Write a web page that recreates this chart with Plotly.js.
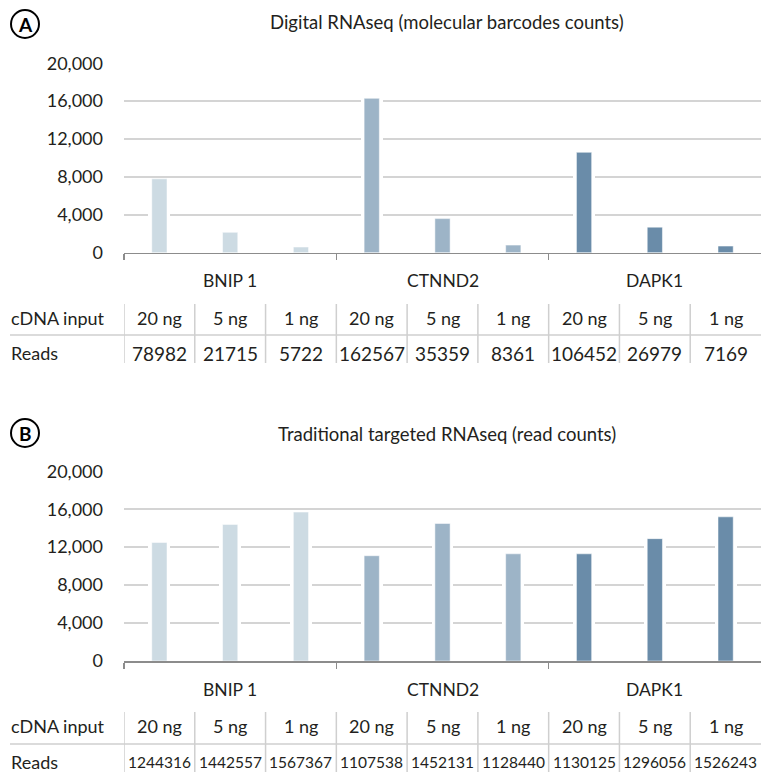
<!DOCTYPE html>
<html>
<head>
<meta charset="utf-8">
<script src="https://cdn.plot.ly/plotly-3.0.1.min.js"></script>
<style>html,body{margin:0;padding:0;background:#fff;}#chart{width:761px;height:774px;}</style>
</head>
<body>
<div id="chart"></div>
<script>
// ---- data ----
const genes = ['BNIP 1', 'CTNND2', 'DAPK1'];
const inputs = ['20 ng', '5 ng', '1 ng'];
const countsA = [7800, 2150, 600, 16300, 3600, 800, 10600, 2700, 700];
const readsA = [78982, 21715, 5722, 162567, 35359, 8361, 106452, 26979, 7169];
const countsB = [12500, 14400, 15700, 11100, 14500, 11300, 11300, 12900, 15200];
const readsB = [1244316, 1442557, 1567367, 1107538, 1452131, 1128440, 1130125, 1296056, 1526243];
const yTicks = [0, 4000, 8000, 12000, 16000, 20000];
const titleA = 'Digital RNAseq (molecular barcodes counts)';
const titleB = 'Traditional targeted RNAseq (read counts)';
const rowLabels = ['cDNA input', 'Reads'];
const geneColors = ['#cddbe3', '#9db4c7', '#6a8ca9'];

// ---- helpers ----
const W = 761, H = 774;
const px = x => x / W;
const py = y => 1 - y / H;
const FONT = 'Lato, "Open Sans", sans-serif';
const TXT = '#231f20';

const nBars = genes.length * inputs.length;
const idx = Array.from({length: nBars}, (_, i) => i);
const barColors = idx.map(i => geneColors[Math.floor(i / inputs.length)]);
const cellInputs = idx.map(i => inputs[i % inputs.length]);

function traces(vals, xa, ya) {
  return [
    {type: 'bar', x: idx, y: vals, width: 0.31, marker: {color: '#ffffff'},
     xaxis: xa, yaxis: ya, hoverinfo: 'skip', showlegend: false},
    {type: 'bar', x: idx, y: vals, width: 0.215,
     marker: {color: barColors, line: {color: 'rgba(255,255,255,0.5)', width: 1}},
     xaxis: xa, yaxis: ya, showlegend: false}
  ];
}

const data = [...traces(countsA, 'x', 'y'), ...traces(countsB, 'x2', 'y2')];

function xaxisDef(anchor) {
  return {
    domain: [px(124), 1], anchor: anchor, range: [-0.5, nBars - 0.5],
    showgrid: false, zeroline: false, showline: true, linecolor: '#8c8c8c', linewidth: 1.5,
    tickmode: 'array', tickvals: [0, 1, 2].map(g => g * inputs.length - 0.5),
    ticks: 'outside', ticklen: 6, tickwidth: 1.5, tickcolor: '#8c8c8c',
    showticklabels: false, fixedrange: true
  };
}
function yaxisDef(anchor, bottom, top) {
  return {
    domain: [py(bottom), py(top)], anchor: anchor, range: [0, 20000],
    tickmode: 'array', tickvals: yTicks, ticktext: yTicks.map(v => v.toLocaleString('en-US')),
    showgrid: true, gridcolor: '#d4d4d4', gridwidth: 1.5, zeroline: false, showline: false,
    ticks: '', ticklabelstandoff: 20,
    tickfont: {family: FONT, size: 18, color: TXT}, fixedrange: true
  };
}

const annotations = [];
const shapes = [];

function panel(letter, title, titleY, letterY, xref, reads, geneY, row1Y, row2Y, sepY, vTop, vBot, readsSize) {
  // letter badge
  shapes.push({type: 'circle', xref: 'paper', yref: 'paper',
    x0: px(11), x1: px(39), y0: py(letterY + 14), y1: py(letterY - 14),
    line: {color: '#000', width: 2}, fillcolor: 'rgba(0,0,0,0)'});
  annotations.push({xref: 'paper', yref: 'paper', x: px(25), y: py(letterY), text: '<b>' + letter + '</b>',
    showarrow: false, xanchor: 'center', yanchor: 'middle', font: {family: FONT, size: 19, color: '#000'}});
  // title
  annotations.push({xref: 'paper', yref: 'paper', x: px(447), y: py(titleY), text: title,
    showarrow: false, xanchor: 'center', yanchor: 'middle', font: {family: FONT, size: 18.5, color: TXT}});
  // gene labels
  genes.forEach((g, gi) => {
    annotations.push({xref: xref, yref: 'paper', x: gi * inputs.length + (inputs.length - 1) / 2, y: py(geneY),
      text: g, showarrow: false, xanchor: 'center', yanchor: 'middle', font: {family: FONT, size: 17.5, color: TXT}});
  });
  // table row labels
  annotations.push({xref: 'paper', yref: 'paper', x: px(9), y: py(row1Y), text: rowLabels[0],
    showarrow: false, xanchor: 'left', yanchor: 'middle', font: {family: FONT, size: 18, color: TXT}});
  annotations.push({xref: 'paper', yref: 'paper', x: px(9), y: py(row2Y), text: rowLabels[1],
    showarrow: false, xanchor: 'left', yanchor: 'middle', font: {family: FONT, size: 18, color: TXT}});
  // cells
  idx.forEach(i => {
    annotations.push({xref: xref, yref: 'paper', x: i, y: py(row1Y), text: cellInputs[i],
      showarrow: false, xanchor: 'center', yanchor: 'middle', font: {family: FONT, size: 18, color: TXT}});
    annotations.push({xref: xref, yref: 'paper', x: i, y: py(row2Y), text: String(reads[i]),
      showarrow: false, xanchor: 'center', yanchor: 'middle', font: {family: FONT, size: readsSize, color: TXT}});
    shapes.push({type: 'line', xref: xref, yref: 'paper', x0: i - 0.5, x1: i - 0.5, y0: py(vTop), y1: py(vBot),
      line: {color: '#cfcfcf', width: 1.5}});
  });
  shapes.push({type: 'line', xref: 'paper', yref: 'paper', x0: px(10), x1: 1, y0: py(sepY), y1: py(sepY),
    line: {color: '#cfcfcf', width: 1.5}});
}

panel('A', titleA, 22, 24, 'x', readsA, 280, 318, 353, 335, 304, 363, 19);
panel('B', titleB, 434, 433, 'x2', readsB, 689, 726, 762, 744, 712, 772, 15.5);

const layout = {
  width: W, height: H, autosize: false,
  margin: {l: 0, r: 0, t: 0, b: 0, pad: 0},
  paper_bgcolor: '#ffffff', plot_bgcolor: '#ffffff',
  barmode: 'overlay', bargap: 0,
  font: {family: FONT, color: TXT},
  xaxis: xaxisDef('y'),
  yaxis: yaxisDef('x', 252.7, 63.3),
  xaxis2: xaxisDef('y2'),
  yaxis2: yaxisDef('x2', 661, 471.3),
  annotations: annotations,
  shapes: shapes,
  showlegend: false
};

Plotly.newPlot('chart', data, layout, {displayModeBar: false, staticPlot: true});
</script>
</body>
</html>
